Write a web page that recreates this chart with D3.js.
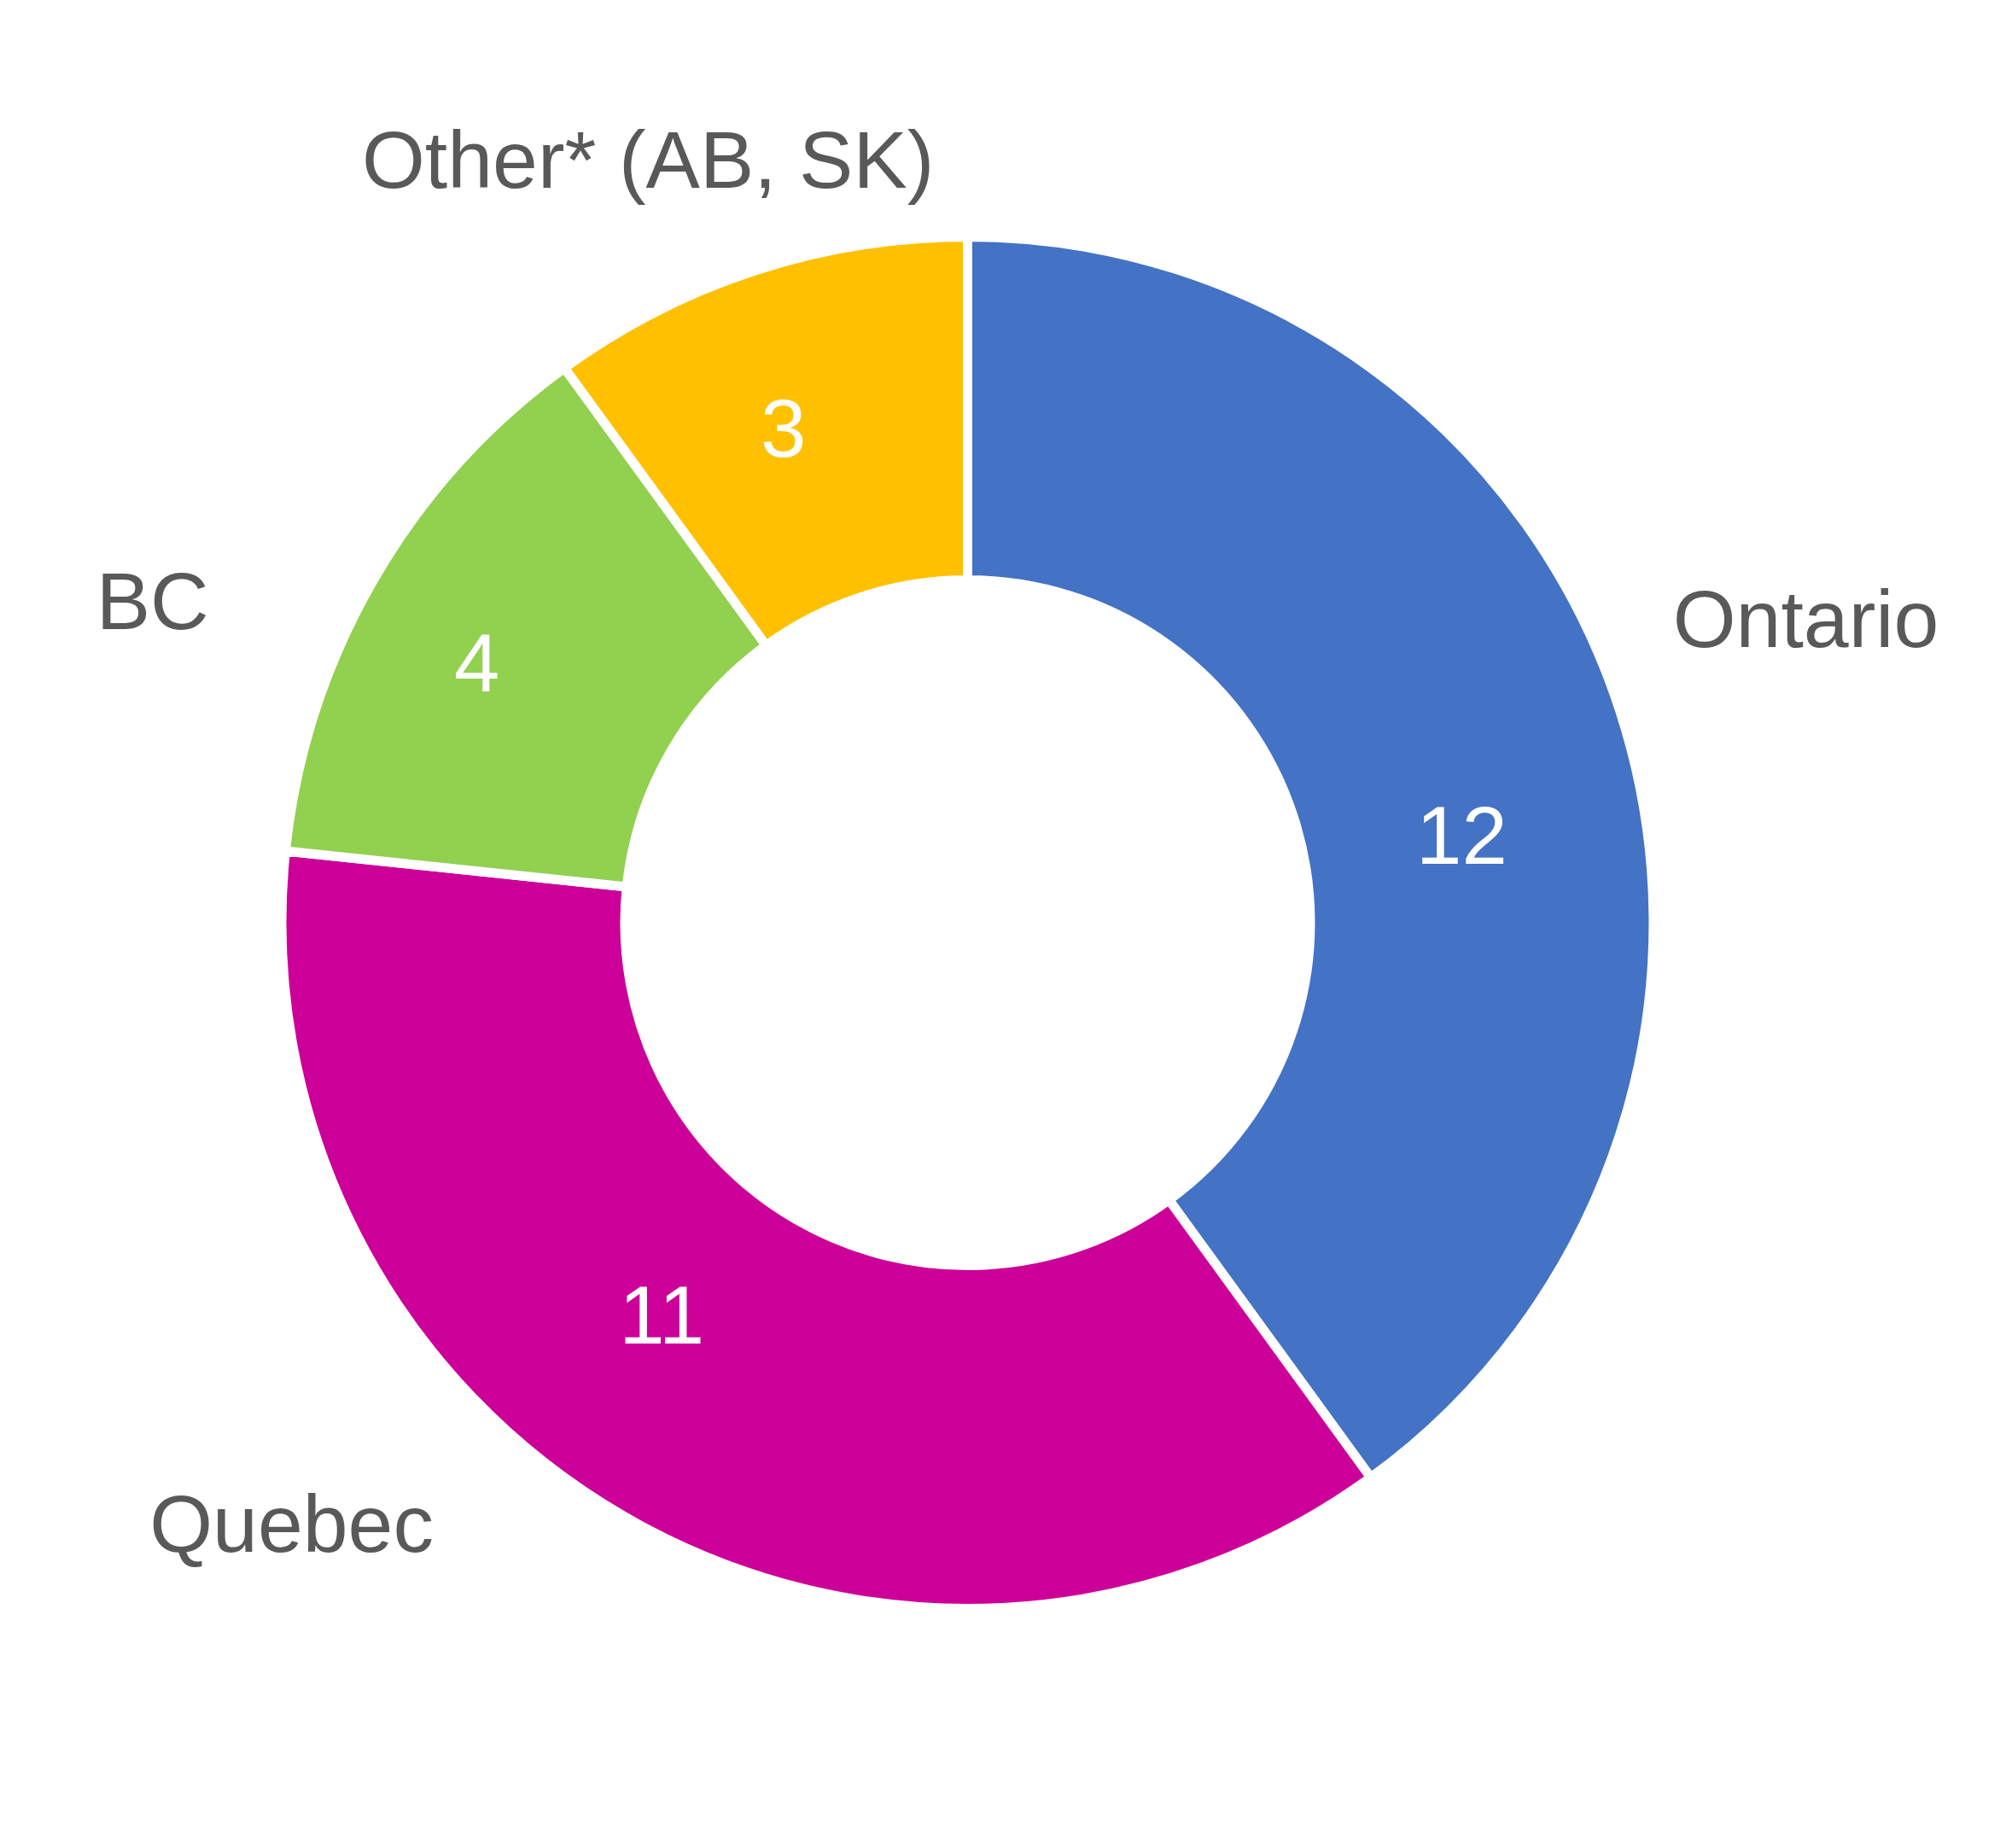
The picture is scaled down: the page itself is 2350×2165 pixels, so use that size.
<!DOCTYPE html>
<html>
<head>
<meta charset="utf-8">
<script src="https://cdn.jsdelivr.net/npm/d3@7"></script>
<style>
  html, body { margin: 0; padding: 0; background: #ffffff; }
  svg { display: block; }
</style>
</head>
<body>
<script>
// ---- data ----
const categories = ["Ontario", "Quebec", "BC", "Other* (AB, SK)"];
const values = [12, 11, 4, 3];
const colors = ["#4472C4", "#CC0099", "#92D050", "#FFC000"];

// ---- layout (not data) ----
const W = 2350, H = 2165;
const cx = 1133.5, cy = 1081;
const outerR = 803.5, innerR = 401.5;
// label placement in polar form: [angle in degrees clockwise from top, radius]
const valueLabelPolar = [[79.9, 588], [218, 582], [298, 651], [339.6, 619]];
const categoryLabelPolar = [[70, 1045], [228.4, 1059], [291.6, 1027], [337.3, 970]];

const svg = d3.select("body").append("svg")
  .attr("width", W).attr("height", H);

const g = svg.append("g").attr("transform", `translate(${cx},${cy})`);

const pie = d3.pie().sort(null).value(d => d.value);
const arcs = pie(categories.map((c, i) => ({ cat: c, value: values[i], color: colors[i] })));

const arc = d3.arc().innerRadius(innerR).outerRadius(outerR);

g.selectAll("path.slice")
  .data(arcs)
  .join("path")
  .attr("class", "slice")
  .attr("d", arc)
  .attr("fill", d => d.data.color)
  .attr("stroke", "#ffffff")
  .attr("stroke-width", 11)
  .attr("stroke-linejoin", "miter");

function polar(p) {
  const a = p[0] * Math.PI / 180;
  return [p[1] * Math.sin(a), -p[1] * Math.cos(a)];
}

g.selectAll("text.value")
  .data(arcs)
  .join("text")
  .attr("class", "value")
  .attr("x", (d, i) => polar(valueLabelPolar[i])[0])
  .attr("y", (d, i) => polar(valueLabelPolar[i])[1])
  .attr("dy", "0.358em")
  .attr("text-anchor", "middle")
  .attr("font-family", "'Liberation Sans', Arial, sans-serif")
  .attr("font-size", 96)
  .attr("fill", "#ffffff")
  .text(d => d.data.value);

g.selectAll("text.cat")
  .data(arcs)
  .join("text")
  .attr("class", "cat")
  .attr("x", (d, i) => polar(categoryLabelPolar[i])[0])
  .attr("y", (d, i) => polar(categoryLabelPolar[i])[1])
  .attr("dy", "0.358em")
  .attr("text-anchor", "middle")
  .attr("font-family", "'Liberation Sans', Arial, sans-serif")
  .attr("font-size", 95)
  .attr("fill", "#595959")
  .text(d => d.data.cat);
</script>
</body>
</html>
